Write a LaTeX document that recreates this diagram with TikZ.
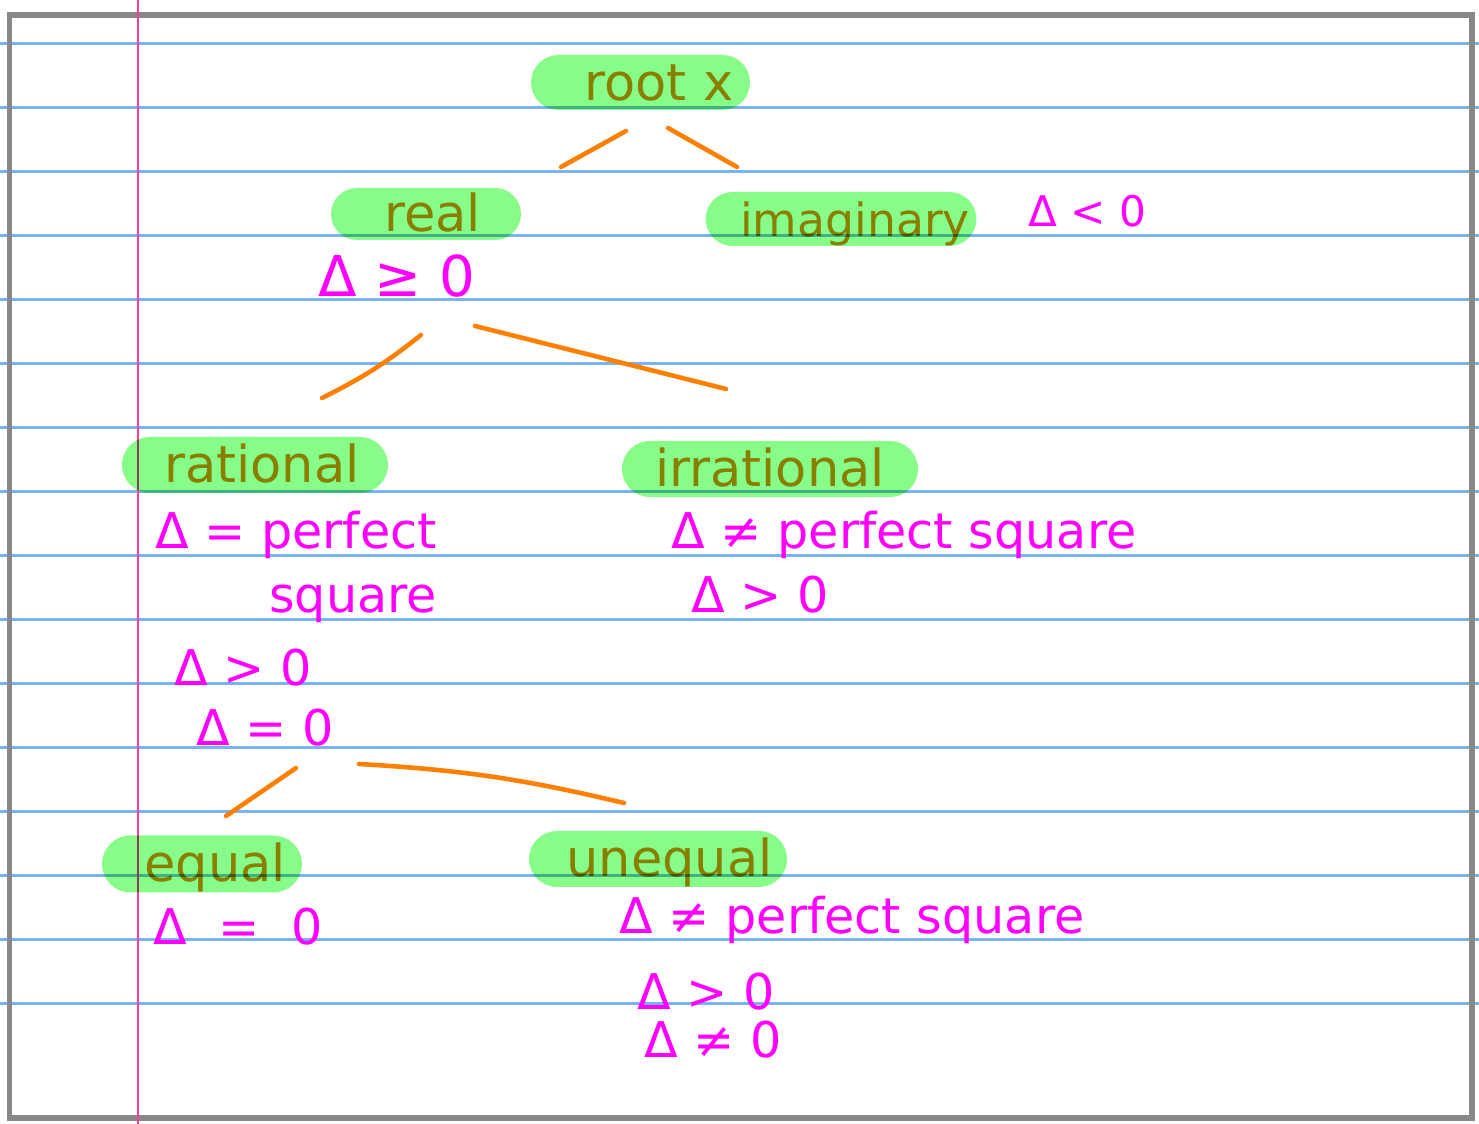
\documentclass[tikz,border=0pt]{standalone}
\usepackage{fontspec}
\setmainfont{DejaVu Sans}
\usetikzlibrary{positioning,calc,shapes.misc}

\definecolor{pen}{RGB}{255,128,0}
\definecolor{marker}{RGB}{136,252,136}
\definecolor{ink}{RGB}{255,0,255}
\definecolor{sheetline}{RGB}{120,180,245}
\definecolor{margin}{RGB}{255,64,150}
\definecolor{frame}{RGB}{136,136,136}

\begin{document}
\begin{tikzpicture}[
    hl/.style={rounded rectangle, fill=marker, text=pen, inner sep=0pt,
               font=\fontsize{14.5}{17}\selectfont, text height=10pt,
               text depth=0pt},
    cond/.style={text=ink, inner sep=0pt, align=right,
                 font=\fontsize{14}{18.2}\selectfont},
    branch/.style={pen, line width=1.3pt, line cap=round},
  ]
  \useasboundingbox (0,0) rectangle (14.79,11.24);

  % ruled sheet, frame and margin
  \foreach \k in {0,...,15}
    \draw[sheetline, line width=0.6pt] (0,{10.805-0.64*\k}) -- (14.79,{10.805-0.64*\k});
  \draw[frame, line width=1.7pt] (0.095,0.06) rectangle (14.72,11.09);
  \draw[margin, line width=0.8pt] (1.38,0) -- (1.38,11.24);

  % highlighted words (marker multiplied over the pen)
  \begin{scope}[blend mode=multiply]
    \node[hl, minimum width=2.19cm, minimum height=0.55cm] (root)
      at (6.405,10.415) {\hspace{10.5pt}root x};
    \node[hl, minimum width=1.90cm, minimum height=0.52cm] (real)
      at (4.26,9.10) {\hspace{3.7pt}real};
    \node[hl, minimum width=2.70cm, minimum height=0.54cm,
          font=\fontsize{13}{15}\selectfont] (imag)
      at (8.41,9.05) {\hspace{8pt}imaginary};
    \node[hl, minimum width=2.66cm, minimum height=0.56cm] (rational)
      at (2.55,6.59) {\hspace{4pt}rational};
    \node[hl, minimum width=2.96cm, minimum height=0.56cm] (irrational)
      at (7.70,6.55) {irrational};
    \node[hl, minimum width=2.00cm, minimum height=0.57cm] (equal)
      at (2.02,2.60) {\hspace{7.5pt}equal};
    \node[hl, minimum width=2.58cm, minimum height=0.56cm] (unequal)
      at (6.58,2.65) {\hspace{6.5pt}unequal};
  \end{scope}

  % conditions on the discriminant
  \node[cond, font=\fontsize{12}{14}\selectfont] (imagcond) at (10.87,9.13) {Δ < 0};
  \node[cond, font=\fontsize{16}{19}\selectfont] (geq) at (3.97,8.48) {Δ ≥ 0};
  \node[cond] (ratsq) at (2.96,5.57) {Δ = perfect\\square};
  \node[cond] (ratpos) at (2.43,4.56) {Δ > 0};
  \node[cond] (ratzero) at (2.65,3.96) {Δ = 0};
  \node[cond] (irrsq) at (9.04,5.89) {Δ ≠ perfect square};
  \node[cond] (irrpos) at (7.60,5.29) {Δ > 0};
  \node[cond] (eqzero) at (2.38,1.97) {Δ \ = \ 0};
  \node[cond] (uneqsq) at (8.52,2.04) {Δ ≠ perfect square};
  \node[cond] (uneqpos) at (7.06,1.32) {Δ > 0};
  \node[cond] (uneqnz) at (7.13,0.84) {Δ ≠ 0};

  % branches of the tree
  \draw[branch] ($(root)+(-0.145,-0.485)$) -- ($(real)+(1.35,0.47)$);
  \draw[branch] ($(root)+(0.275,-0.455)$) -- ($(imag)+(-1.04,0.52)$);
  \draw[branch] ($(geq)+(0.24,-0.59)$) to[bend left=6] ($(rational)+(0.67,0.67)$);
  \draw[branch] ($(geq)+(0.78,-0.50)$) -- ($(irrational)+(-0.44,0.80)$);
  \draw[branch] ($(ratzero)+(0.31,-0.40)$) -- ($(equal)+(0.24,0.48)$);
  \draw[branch] ($(ratzero)+(0.94,-0.36)$) to[bend left=5] ($(unequal)+(-0.34,0.56)$);
\end{tikzpicture}
\end{document}
